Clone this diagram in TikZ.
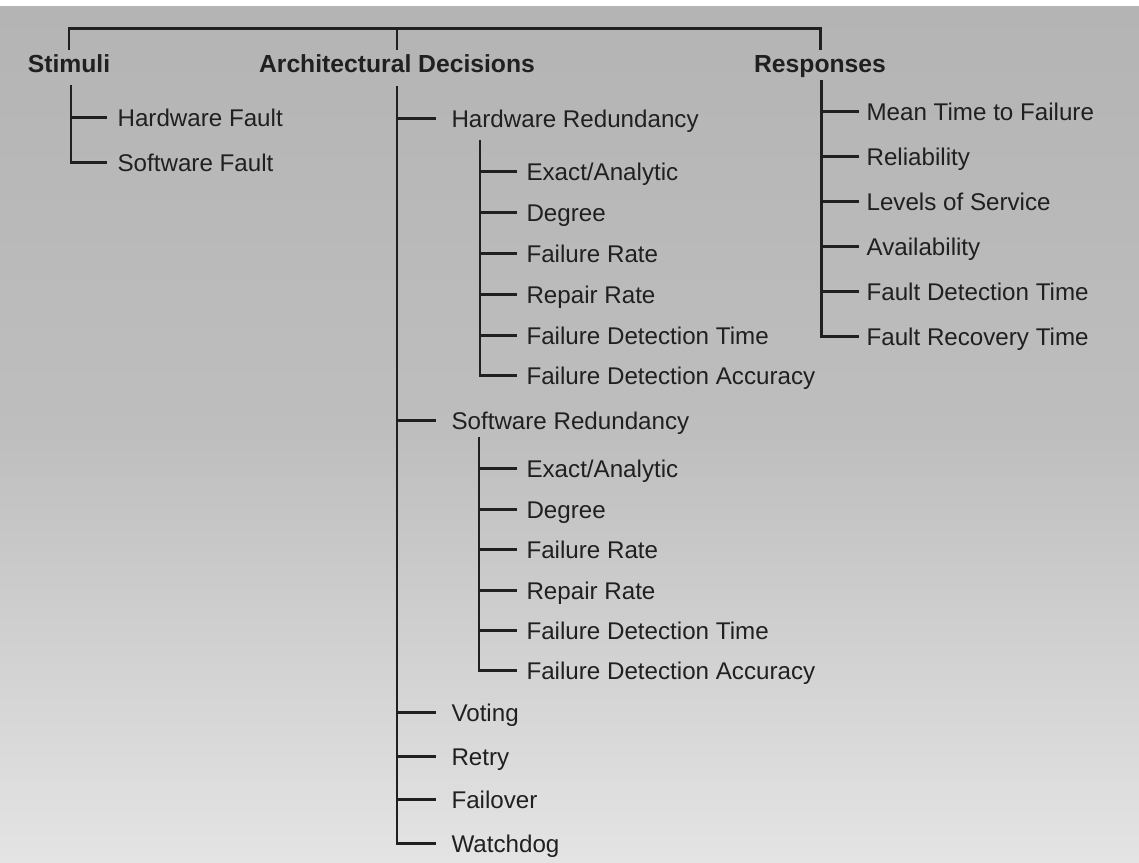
\documentclass[tikz,border=0pt]{standalone}
\usepackage{fontspec}
\setmainfont{Liberation Sans}

\definecolor{ink}{RGB}{32,32,32}
\definecolor{papertop}{RGB}{180,180,180}
\definecolor{papermid}{RGB}{190,190,190}
\definecolor{paperlow}{RGB}{228,228,228}

\tikzset{
  head/.style={font=\fontsize{14bp}{16bp}\selectfont\bfseries, text=ink,
    text height=10bp, text depth=0pt, inner ysep=3bp},
  leaf/.style={anchor=west, inner xsep=#1, font=\fontsize{13.7bp}{16bp}\selectfont,
    text=ink, text height=9.8bp, text depth=0pt},
  leaf/.default=5.2bp,
  branch/.style={draw=ink, line width=1.7bp}
}

\begin{document}
\begin{tikzpicture}[scale=0.2]
\tikzstyle{every node}+=[inner sep=0pt]
\useasboundingbox (0,0) rectangle (113.9,-86.3);
\shade [top color=papertop, bottom color=paperlow, middle color=papermid] (0,-0.7) rectangle (113.9,-86.3);
% headings
\node [head] (stimuli) at (6.9,-6.4) {Stimuli};
\node [head] (arch) at (39.7,-6.4) {Architectural Decisions};
\node [head] (responses) at (82.0,-6.4) {Responses};
\coordinate (topbar) at (39.7,-2.9);
\draw [branch] (stimuli.north) |- (topbar) -| (responses.north);
\draw [branch] (arch.north) -- (arch.north |- topbar);
% stimuli
\coordinate (stimtree) at (7.1,-8.5);
\node [leaf=5.8bp] (hwfault) at (10.7,-11.8) {Hardware Fault};
\node [leaf=5.8bp] (swfault) at (10.7,-16.3) {Software Fault};
\draw [branch] (stimtree |- hwfault.west) -- (hwfault.west);
\draw [branch] (stimtree) |- (swfault.west);
% architectural decisions
\coordinate (archtree) at (39.7,-8.6);
\node [leaf=8.6bp] (hwred) at (43.6,-11.9) {Hardware Redundancy};
\node [leaf=8.6bp] (swred) at (43.6,-42.1) {Software Redundancy};
\node [leaf=8.6bp] (voting) at (43.6,-71.3) {Voting};
\node [leaf=8.6bp] (retry) at (43.6,-75.7) {Retry};
\node [leaf=8.6bp] (failover) at (43.6,-80.0) {Failover};
\node [leaf=8.6bp] (watchdog) at (43.6,-84.4) {Watchdog};
\draw [branch] (archtree |- hwred.west) -- (hwred.west);
\draw [branch] (archtree |- swred.west) -- (swred.west);
\draw [branch] (archtree |- voting.west) -- (voting.west);
\draw [branch] (archtree |- retry.west) -- (retry.west);
\draw [branch] (archtree |- failover.west) -- (failover.west);
\draw [branch] (archtree) |- (watchdog.west);
% hardware redundancy
\coordinate (hwtree) at (48.0,-14.0);
\node [leaf] (hwexact) at (51.7,-17.2) {Exact/Analytic};
\node [leaf] (hwdegree) at (51.7,-21.3) {Degree};
\node [leaf] (hwfrate) at (51.7,-25.4) {Failure Rate};
\node [leaf] (hwrrate) at (51.7,-29.5) {Repair Rate};
\node [leaf] (hwfdt) at (51.7,-33.6) {Failure Detection Time};
\node [leaf] (hwfda) at (51.7,-37.6) {Failure Detection Accuracy};
\draw [branch] (hwtree |- hwexact.west) -- (hwexact.west);
\draw [branch] (hwtree |- hwdegree.west) -- (hwdegree.west);
\draw [branch] (hwtree |- hwfrate.west) -- (hwfrate.west);
\draw [branch] (hwtree |- hwrrate.west) -- (hwrrate.west);
\draw [branch] (hwtree |- hwfdt.west) -- (hwfdt.west);
\draw [branch] (hwtree) |- (hwfda.west);
% software redundancy
\coordinate (swtree) at (47.9,-43.7);
\node [leaf] (swexact) at (51.7,-46.9) {Exact/Analytic};
\node [leaf] (swdegree) at (51.7,-51.0) {Degree};
\node [leaf] (swfrate) at (51.7,-55.0) {Failure Rate};
\node [leaf] (swrrate) at (51.7,-59.1) {Repair Rate};
\node [leaf] (swfdt) at (51.7,-63.1) {Failure Detection Time};
\node [leaf] (swfda) at (51.7,-67.1) {Failure Detection Accuracy};
\draw [branch] (swtree |- swexact.west) -- (swexact.west);
\draw [branch] (swtree |- swdegree.west) -- (swdegree.west);
\draw [branch] (swtree |- swfrate.west) -- (swfrate.west);
\draw [branch] (swtree |- swrrate.west) -- (swrrate.west);
\draw [branch] (swtree |- swfdt.west) -- (swfdt.west);
\draw [branch] (swtree) |- (swfda.west);
% responses
\coordinate (resptree) at (82.1,-8.0);
\node [leaf=4.1bp] (mttf) at (85.9,-11.2) {Mean Time to Failure};
\node [leaf=4.1bp] (reliab) at (85.9,-15.7) {Reliability};
\node [leaf=4.1bp] (levels) at (85.9,-20.2) {Levels of Service};
\node [leaf=4.1bp] (avail) at (85.9,-24.7) {Availability};
\node [leaf=4.1bp] (fdtime) at (85.9,-29.2) {Fault Detection Time};
\node [leaf=4.1bp] (frtime) at (85.9,-33.7) {Fault Recovery Time};
\draw [branch] (resptree |- mttf.west) -- (mttf.west);
\draw [branch] (resptree |- reliab.west) -- (reliab.west);
\draw [branch] (resptree |- levels.west) -- (levels.west);
\draw [branch] (resptree |- avail.west) -- (avail.west);
\draw [branch] (resptree |- fdtime.west) -- (fdtime.west);
\draw [branch] (resptree) |- (frtime.west);
\end{tikzpicture}
\end{document}
